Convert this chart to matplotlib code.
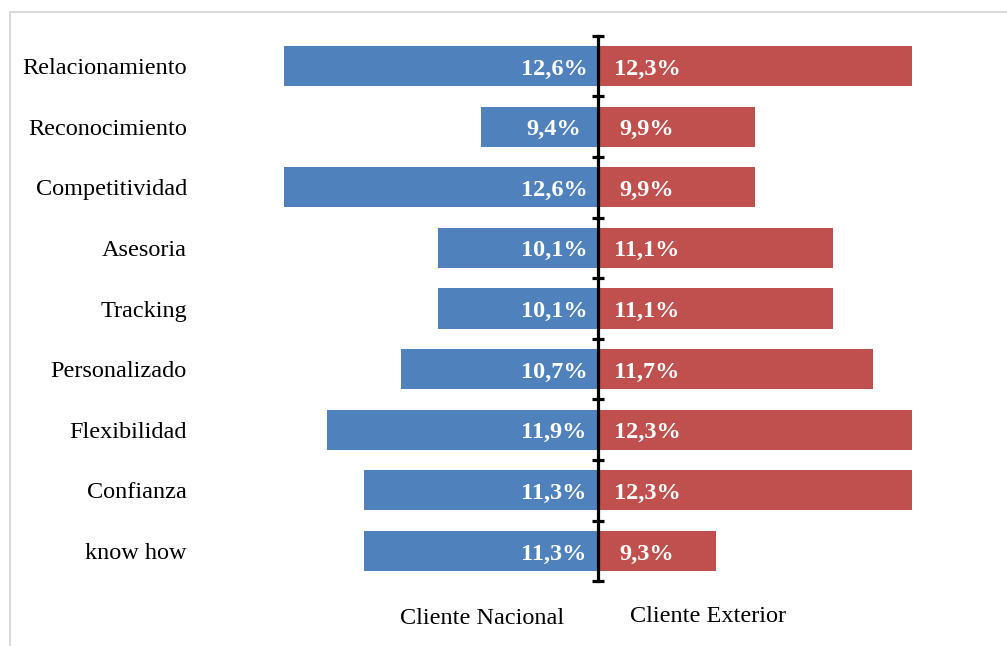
import matplotlib
matplotlib.use("Agg")
import matplotlib.pyplot as plt
from matplotlib.lines import Line2D

categories = ["Relacionamiento", "Reconocimiento", "Competitividad", "Asesoria",
              "Tracking", "Personalizado", "Flexibilidad", "Confianza", "know how"]
nacional = [12.6, 9.4, 12.6, 10.1, 10.1, 10.7, 11.9, 11.3, 11.3]
exterior = [12.3, 9.9, 9.9, 11.1, 11.1, 11.7, 12.3, 12.3, 9.3]
series_labels = ["Cliente Nacional", "Cliente Exterior"]

BASE = 7.5
W, H = 1007, 646
DPI = 100
FS = 17.5
plt.rcParams['font.family'] = ['Liberation Serif', 'DejaVu Serif']

fig = plt.figure(figsize=(W / DPI, H / DPI), dpi=DPI)

cx = 598          # centre line pixel
lx0 = 200         # left axis start pixel
rx1 = 960         # right axis end pixel
ytop, ybot = 35.7, 581.3
bottom = 1 - ybot / H
height = (ybot - ytop) / H

left_scale = 61.5   # px per unit
right_scale = 65.4

axL = fig.add_axes([lx0 / W, bottom, (cx - lx0) / W, height])
axR = fig.add_axes([cx / W, bottom, (rx1 - cx) / W, height])

n = len(categories)
ys = list(range(n))

axL.barh(ys, [v - BASE for v in nacional], left=BASE, height=0.66, color="#4F81BD")
axR.barh(ys, [v - BASE for v in exterior], left=BASE, height=0.66, color="#C0504D")

axL.set_xlim(BASE + (cx - lx0) / left_scale, BASE)
axR.set_xlim(BASE, BASE + (rx1 - cx) / right_scale)
for ax in (axL, axR):
    ax.set_ylim(n - 0.5, -0.5)
    for s in ax.spines.values():
        s.set_visible(False)
    ax.set_xticks([])
    ax.patch.set_alpha(0)

axL.set_yticks(ys)
axL.set_yticklabels(categories, fontsize=FS, color="#000000")
axL.tick_params(axis='y', length=0, pad=9.4)
axR.set_yticks([])

def fmt(v):
    return f"{v:.1f}%".replace(".", ",")

for y, v in zip(ys, nacional):
    axL.annotate(fmt(v), xy=(BASE, y), xytext=(-44, -3), textcoords='offset pixels',
                 ha='center', va='center', color='white', fontweight='bold', fontsize=FS)
for y, v in zip(ys, exterior):
    axR.annotate(fmt(v), xy=(BASE, y), xytext=(49, -3), textcoords='offset pixels',
                 ha='center', va='center', color='white', fontweight='bold', fontsize=FS)

# centre axis line with caps
axR.plot([BASE, BASE], [-0.5, n - 0.5], color='black', lw=2.3, clip_on=False, zorder=5)
axR.plot([BASE] * (n + 1), [i - 0.5 for i in range(n + 1)], linestyle='none',
         marker='_', markersize=9, mew=2.3, color='black', clip_on=False, zorder=5)

fig.text(482.5 / W, 1 - 624 / H, series_labels[0], ha='center', va='baseline', fontsize=FS)
fig.text(708.5 / W, 1 - 622 / H, series_labels[1], ha='center', va='baseline', fontsize=FS)

# chart border (light grey)
fig.add_artist(Line2D([9.5 / W, 1], [1 - 12 / H, 1 - 12 / H], transform=fig.transFigure,
                      color='#D9D9D9', lw=1.4))
fig.add_artist(Line2D([9.5 / W, 9.5 / W], [0, 1 - 12 / H], transform=fig.transFigure,
                      color='#D9D9D9', lw=1.4))

fig.savefig("out.png", dpi=DPI)
